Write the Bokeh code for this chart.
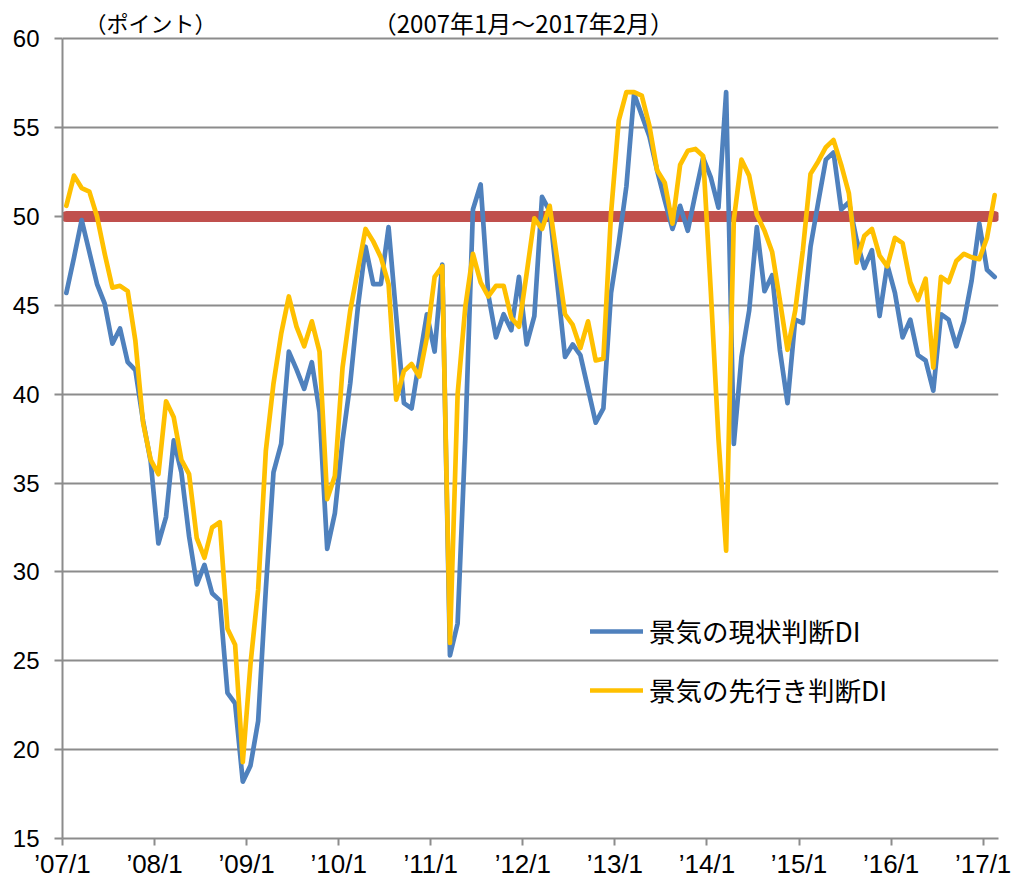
from bokeh.plotting import figure
from bokeh.models import FixedTicker, Range1d, Legend, LegendItem, Label, ColumnDataSource
from bokeh.embed import file_html
from bokeh.resources import INLINE

# 2007/1 .. 2017/2 (122 months)
months = [f"{y}/{m}" for y in range(2007, 2018) for m in range(1, 13)][:122]

current_di = [
    45.7, 47.7, 49.8, 48.0, 46.2, 45.1, 42.85, 43.7, 41.8, 41.35, 38.5, 36.2,
    31.6, 33.1, 37.4, 35.6, 32.0, 29.3, 30.4, 28.8, 28.4, 23.2, 22.6, 18.2,
    19.1, 21.6, 29.0, 35.6, 37.2, 42.4, 41.4, 40.3, 41.8, 39.0, 31.3, 33.3,
    37.4, 40.6, 44.9, 48.3, 46.2, 46.2, 49.4, 44.4, 39.5, 39.2, 41.9, 44.5,
    42.4, 47.3, 25.3, 27.1, 37.5, 50.4, 51.8, 45.6, 43.2, 44.5, 43.6, 46.6,
    42.8, 44.4, 51.1, 50.3, 46.2, 42.1, 42.8, 42.2, 40.3, 38.4, 39.2, 45.7,
    48.5, 51.7, 56.9, 55.7, 54.5, 52.6, 50.9, 49.3, 50.6, 49.2, 51.3, 53.3,
    52.2, 50.5, 57.0, 37.2, 42.1, 44.7, 49.4, 45.8, 46.7, 42.5, 39.5, 44.2,
    44.0, 48.3, 50.8, 53.2, 53.6, 50.4, 50.8, 48.7, 47.1, 48.1, 44.4, 47.3,
    45.7, 43.2, 44.2, 42.2, 41.9, 40.2, 44.5, 44.2, 42.7, 44.1, 46.4, 49.6,
    47.0, 46.6,
]

outlook_di = [
    50.6, 52.3, 51.6, 51.4, 50.0, 47.9, 46.0, 46.1, 45.8, 43.0, 38.4, 36.3,
    35.5, 39.6, 38.7, 36.3, 35.5, 31.9, 30.8, 32.5, 32.8, 26.8, 25.9, 19.3,
    24.8, 29.0, 36.8, 40.6, 43.4, 45.5, 43.8, 42.7, 44.1, 42.4, 34.1, 35.4,
    41.5, 44.7, 47.0, 49.3, 48.6, 47.7, 46.2, 39.7, 41.3, 41.7, 41.0, 43.2,
    46.6, 47.2, 26.0, 40.0, 44.9, 47.9, 46.3, 45.5, 46.1, 46.1, 44.3, 43.8,
    46.8, 49.9, 49.3, 50.6, 47.5, 44.5, 43.9, 42.6, 44.1, 41.9, 42.0, 50.2,
    55.4, 57.0, 57.0, 56.8, 55.1, 52.6, 51.9, 49.6, 52.9, 53.7, 53.8, 53.4,
    45.8, 37.5, 31.2, 49.8, 53.2, 52.3, 50.1, 49.2, 48.0, 45.3, 42.5, 44.7,
    48.1, 52.4, 53.1, 53.9, 54.3, 52.9, 51.3, 47.4, 48.9, 49.3, 47.8, 47.2,
    48.8, 48.5, 46.3, 45.3, 46.5, 41.5, 46.6, 46.3, 47.5, 47.9, 47.7, 47.6,
    48.8, 51.2,
]

threshold = [50.0] * len(months)

tick_positions = list(range(0, 121, 12))
tick_labels = ["’07/1", "’08/1", "’09/1", "’10/1", "’11/1", "’12/1",
               "’13/1", "’14/1", "’15/1", "’16/1", "’17/1"]
y_ticks = list(range(15, 61, 5))

series_names = ["景気の現状判断DI", "景気の先行き判断DI"]
header_unit = "（ポイント）"
header_period = "（2007年1月～2017年2月）"

x = [i + 0.5 for i in range(len(months))]
src = ColumnDataSource(dict(x=x, cur=current_di, out=outlook_di, th=threshold))

GRID = "#8c8c8c"

# frame extends a little above 60 so that the header texts sit inside it
p = figure(width=1015, height=882, output_backend="svg", toolbar_location=None,
           x_range=Range1d(0, len(months)), y_range=Range1d(15, 61.93),
           min_border_left=62, min_border_right=17, min_border_top=4,
           min_border_bottom=44)
p.outline_line_color = None
p.background_fill_color = "white"
p.border_fill_color = "white"

p.xgrid.visible = False
p.ygrid.ticker = FixedTicker(ticks=y_ticks)
p.ygrid.grid_line_color = GRID
p.ygrid.grid_line_width = 2

p.yaxis.ticker = FixedTicker(ticks=y_ticks)
p.yaxis.bounds = (15, 60)
p.yaxis.axis_line_color = GRID
p.yaxis.axis_line_width = 2
p.yaxis.major_tick_line_color = GRID
p.yaxis.major_tick_line_width = 2
p.yaxis.major_tick_in = 0
p.yaxis.major_tick_out = 8
p.yaxis.minor_tick_line_color = None
p.yaxis.major_label_text_font = "Liberation Sans"
p.yaxis.major_label_text_font_size = "24px"
p.yaxis.major_label_text_color = "black"
p.yaxis.major_label_standoff = 15

p.xaxis.ticker = FixedTicker(ticks=tick_positions)
p.xaxis.major_label_overrides = {t: l for t, l in zip(tick_positions, tick_labels)}
p.xaxis.axis_line_color = GRID
p.xaxis.axis_line_width = 2
p.xaxis.major_tick_line_color = GRID
p.xaxis.major_tick_line_width = 2
p.xaxis.major_tick_in = 0
p.xaxis.major_tick_out = 7
p.xaxis.minor_tick_line_color = None
p.xaxis.major_label_text_font = "Liberation Sans"
p.xaxis.major_label_text_font_size = "26px"
p.xaxis.major_label_text_color = "black"
p.xaxis.major_label_standoff = 3

p.line("x", "th", source=src, line_color="#C0504D", line_width=11, line_cap="round")
r_cur = p.line("x", "cur", source=src, line_color="#4F81BD", line_width=4.7,
               line_join="round", line_cap="round")
r_out = p.line("x", "out", source=src, line_color="#FFC000", line_width=4.7,
               line_join="round", line_cap="round")

legend = Legend(items=[LegendItem(label=series_names[0], renderers=[r_cur]),
                       LegendItem(label=series_names[1], renderers=[r_out])],
                location=(528, 129), orientation="vertical",
                glyph_width=53, glyph_height=36, label_height=36,
                label_standoff=6, spacing=20, padding=0, margin=0,
                border_line_color=None, background_fill_alpha=0,
                label_text_font="Noto Sans CJK JP", label_text_font_size="26.5px",
                label_text_color="black")
p.add_layout(legend)

for txt, xc, fs in [(header_unit, 11.47, "22px"), (header_period, 60.07, "24px")]:
    p.add_layout(Label(x=xc, y=60.92, text=txt, text_align="center",
                       text_baseline="middle", text_font="Noto Sans CJK JP",
                       text_font_size=fs, text_color="black"))

open("out.html", "w").write(file_html(p, INLINE))
